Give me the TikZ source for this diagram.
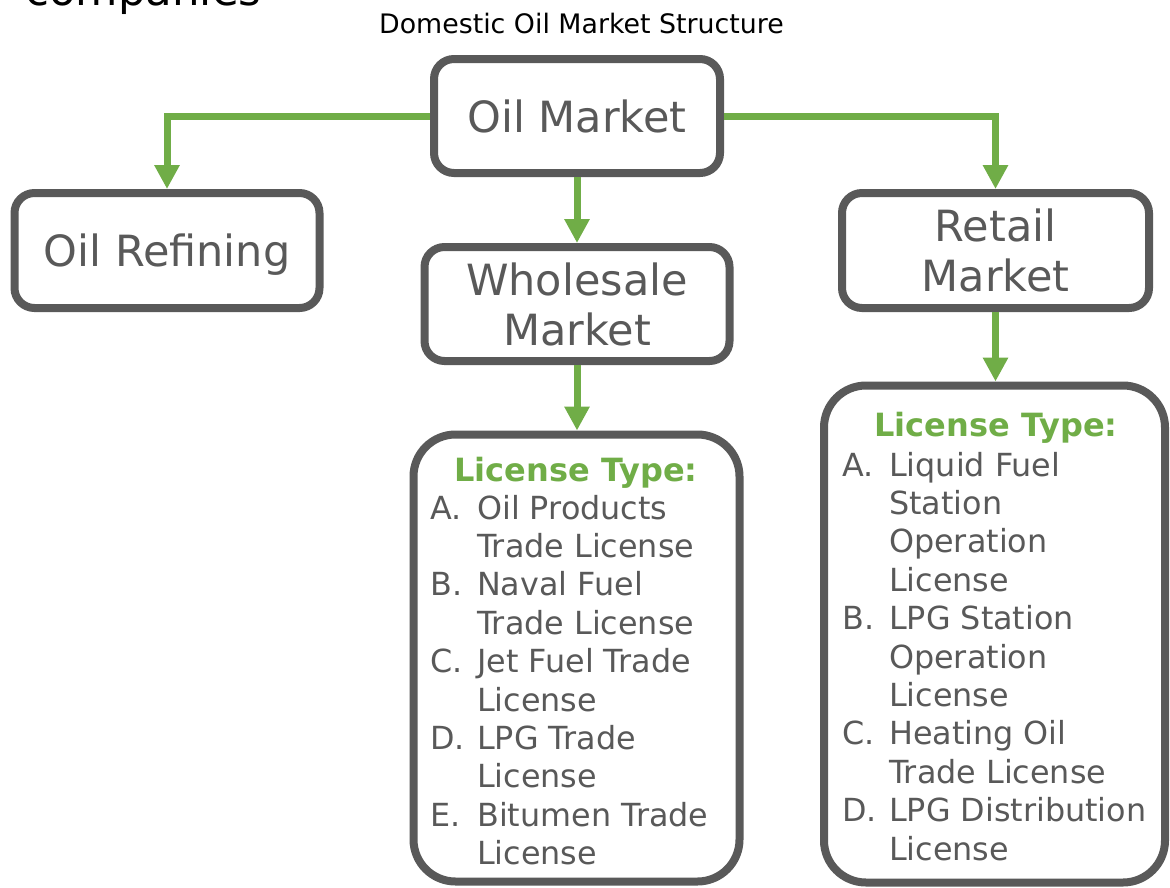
\documentclass[tikz,border=0pt]{standalone}
\usepackage{fontspec}
\setmainfont{DejaVu Sans}
\usetikzlibrary{arrows.meta}
\definecolor{boxgray}{HTML}{595959}
\definecolor{txtgray}{HTML}{595959}
\definecolor{lgreen}{HTML}{70AD47}
\newcommand{\itm}[1]{\makebox[47pt][l]{#1}}
\begin{document}
\begin{tikzpicture}[x=1pt,y=-1pt,
  mainbox/.style={draw=boxgray, line width=8pt, rounded corners=20pt, fill=white, text=txtgray, align=center, font=\fontsize{43}{50}\selectfont, inner sep=0pt},
  licbox/.style={draw=boxgray, line width=8pt, rounded corners=42pt, fill=white, inner sep=0pt},
  conn/.style={draw=lgreen, line width=7pt, -{Triangle[length=24pt,width=24pt]}},
  lictitle/.style={text=lgreen, font=\bfseries\fontsize{32}{38}\selectfont, inner sep=0pt, anchor=base},
  liclist/.style={text=txtgray, font=\fontsize{31.8}{38.4}\selectfont, inner sep=0pt, anchor=base west}]
\useasboundingbox (0,0) rectangle (1170,887);
\clip (0,0) rectangle (1170,887);

\node[anchor=base west, inner sep=0pt, font=\fontsize{43.5}{50}\selectfont] (comp) at (25,5) {companies};
\node[anchor=base, inner sep=0pt, font=\fontsize{26.8}{32}\selectfont] (title) at (581.5,33) {Domestic Oil Market Structure};

\node[mainbox, minimum width=286pt, minimum height=114pt] (om) at (577,116) {Oil Market};
\node[mainbox, minimum width=305pt, minimum height=115pt, text depth=0pt] (ref) at (167,250.5) {Oil Refining};
\node[mainbox, minimum width=305pt, minimum height=114pt] (whs) at (577,304) {Wholesale\\Market};
\node[mainbox, minimum width=307pt, minimum height=115pt] (ret) at (995.5,250.5) {Retail\\Market};

\node[licbox, minimum width=326pt, minimum height=447pt] (wlic) at (576.5,658) {};
\node[licbox, minimum width=341pt, minimum height=497pt] (rlic) at (994.5,634) {};

\draw[conn] (om.west) -| (ref.north);
\draw[conn] (om.east) -| (ret.north);
\draw[conn] (om.south) -- (whs.north);
\draw[conn] (whs.south) -- (whs.south |- wlic.north);
\draw[conn] (ret.south) -- (ret.south |- rlic.north);

\node[lictitle] (wlicT) at (576,481) {License Type:};
\node[lictitle] (rlicT) at (996,436) {License Type:};

\node[liclist] (wlicL) at (430,519) {\begin{tabular}[t]{@{}l@{}l@{}}
\itm{A.}&Oil Products\\
 &Trade License\\
\itm{B.}&Naval Fuel\\
 &Trade License\\
\itm{C.}&Jet Fuel Trade\\
 &License\\
\itm{D.}&LPG Trade\\
 &License\\
\itm{E.}&Bitumen Trade\\
 &License
\end{tabular}};

\node[liclist] (rlicL) at (842,476) {\begin{tabular}[t]{@{}l@{}l@{}}
\itm{A.}&Liquid Fuel\\
 &Station\\
 &Operation\\
 &License\\
\itm{B.}&LPG Station\\
 &Operation\\
 &License\\
\itm{C.}&Heating Oil\\
 &Trade License\\
\itm{D.}&LPG Distribution\\
 &License
\end{tabular}};
\end{tikzpicture}
\end{document}
